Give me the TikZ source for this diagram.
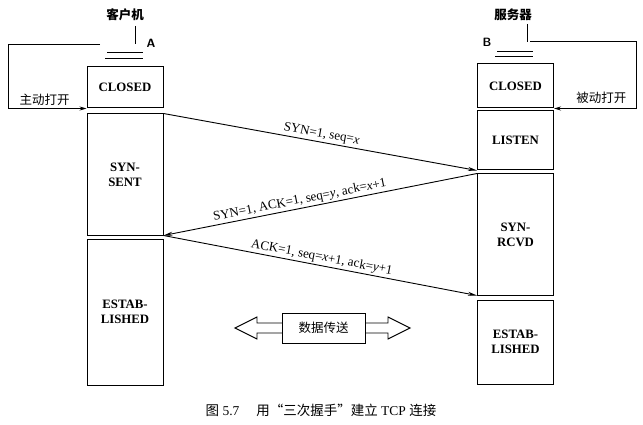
\documentclass[tikz,border=0pt]{standalone}
\usepackage{fontspec}
\setmainfont{Liberation Serif}
\newfontfamily\cjk{Noto Sans CJK SC}
\usetikzlibrary{arrows.meta,calc}
\begin{document}
\begin{tikzpicture}[x=1pt,y=-1pt,
  statebox/.style={draw,line width=1pt,minimum width=76pt,inner sep=0pt,align=center,font=\fontsize{12.8}{15}\selectfont\bfseries},
  msg/.style={line width=0.9pt,-{Stealth[length=9pt,width=4pt]}},
  lab/.style={font=\fontsize{13}{15}\selectfont,sloped,above,inner sep=1.5pt},
  fb/.style={line width=0.8pt},
  zh/.style={font=\cjk\fontsize{12.5}{14}\selectfont}]
\useasboundingbox (0,0) rectangle (643,425);
% left column
\node[statebox,minimum height=41pt] (lclosed) at (125,87.5) {CLOSED};
\node[statebox,minimum height=121pt] (lsyn) at (125,174.5) {SYN-\\SENT};
\node[statebox,minimum height=146pt] (lest) at (125,312) {ESTAB-\\LISHED};
% right column
\node[statebox,minimum height=44pt] (rclosed) at (515.5,86) {CLOSED};
\node[statebox,minimum height=59pt] (rlisten) at (515.5,140.5) {LISTEN};
\node[statebox,minimum height=121pt] (rsyn) at (515.5,234.5) {SYN-\\RCVD};
\node[statebox,minimum height=84pt] (rest) at (515.5,342) {ESTAB-\\LISHED};
% hosts
\node[zh,font=\cjk\fontsize{12.5}{14}\selectfont\bfseries] (hA) at (125,15) {客户机};
\node[zh,font=\cjk\fontsize{12.5}{14}\selectfont\bfseries] (hB) at (513,15) {服务器};
\node[font=\sffamily\fontsize{12}{14}\selectfont\bfseries] (lA) at (151,43) {A};
\node[font=\sffamily\fontsize{12}{14}\selectfont\bfseries] (lB) at (487,42) {B};
\coordinate (aTop) at (135,26);
\coordinate (aBot) at (135,44);
\coordinate (bTop) at (527,24);
\coordinate (bBot) at (527,42);
\draw[line width=0.8pt] (aTop) -- (aBot);
\draw[line width=0.8pt] (bTop) -- (bBot);
\draw[line width=0.8pt] (107,52) -- (143,52) (105,58) -- (143,58);
\draw[line width=0.8pt] (497,51) -- (533,51) (495,56) -- (533,56);
% feedback (active / passive open)
\coordinate (aOut) at (100,44);
\coordinate (bOut) at (530,41);
\draw[fb,-{Stealth[length=7pt,width=4pt]}] (aOut) -- (8,44) |- (lclosed.south west);
\draw[fb,-{Stealth[length=7pt,width=4pt]}] (bOut) -- (636,41) |- (rclosed.south east);
\node[zh,anchor=west] (act) at (16,100) {主动打开};
\node[zh,anchor=east] (pas) at (630,98) {被动打开};
% messages
\draw[msg] (lsyn.north east) -- node[lab] {SYN=1, seq=\textit{x}} (rlisten.south west);
\draw[msg] (rsyn.north west) -- node[lab,pos=0.56] {SYN=1, ACK=1, seq=\textit{y}, ack=\textit{x}+1} (lsyn.south east);
\draw[msg] (lsyn.south east) -- node[lab] {ACK=1, seq=\textit{x}+1, ack=\textit{y}+1} (rsyn.south west);
% data transfer
\draw[line width=0.9pt] (235,328) -- (257,317) -- (257,323) -- (388,323) -- (388,317) -- (410,328)
  -- (388,339) -- (388,333) -- (257,333) -- (257,339) -- cycle;
\node[draw,fill=white,line width=1pt,minimum width=83pt,minimum height=30pt,inner sep=0pt,zh] (data) at (323.5,328) {数据传送};
% caption
\node[font=\fontsize{13.5}{15}\selectfont] (cap) at (321,410) {{\cjk 图} 5.7\quad\ {\cjk 用“三次握手”建立} TCP {\cjk 连接}};
\end{tikzpicture}
\end{document}
